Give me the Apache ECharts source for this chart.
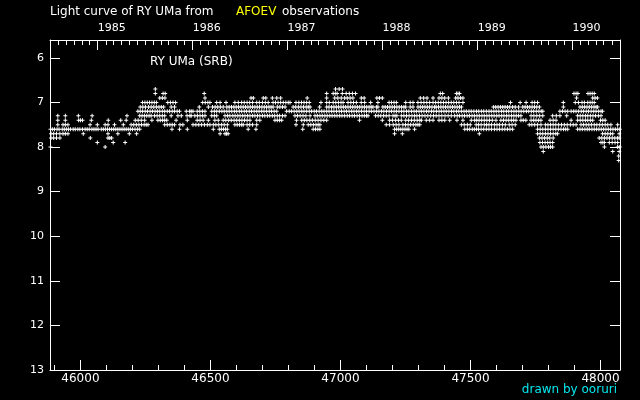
<!DOCTYPE html>
<html><head><meta charset="utf-8">
<script src="https://cdn.jsdelivr.net/npm/echarts@6/dist/echarts.min.js"></script>
<style>html,body{margin:0;padding:0;background:#000;}#c{width:640px;height:400px;}</style>
</head><body><div id="c"></div>
<script>
// Magnitude levels and the Julian dates (JD-2400000) observed at each level
const magLevels = [6.7, 6.8, 6.9, 7.0, 7.1, 7.2, 7.3, 7.4, 7.5, 7.6, 7.7, 7.8, 7.9, 8.0, 8.1, 8.2, 8.3];
const jd67 = [46288, 46981, 46995, 47008];
const jd68 = [46288, 46318, 46326, 46476, 46947, 46972, 46980, 46987, 47007, 47022, 47034, 47046, 47058, 47384, 47393, 47446, 47452, 47458, 47898, 47906, 47913, 47952, 47960, 47968, 47976];
const jd69 = [46305, 46315, 46325, 46479, 46656, 46665, 46703, 46713, 46738, 46755, 46770, 46872, 46947, 46978, 46990, 47003, 47016, 47026, 47037, 47048, 47080, 47091, 47140, 47150, 47161, 47307, 47320, 47333, 47356, 47379, 47390, 47401, 47415, 47443, 47452, 47462, 47471, 47908, 47970, 47979, 47988];
const jd70 = [46239, 46248, 46257, 46266, 46275, 46284, 46292, 46336, 46346, 46356, 46366, 46470, 46480, 46490, 46498, 46524, 46537, 46560, 46594, 46607, 46620, 46630, 46641, 46651, 46662, 46678, 46688, 46700, 46711, 46722, 46741, 46750, 46760, 46770, 46780, 46790, 46799, 46806, 46829, 46840, 46850, 46860, 46870, 46880, 46925, 46947, 46957, 46972, 46982, 46992, 47002, 47010, 47029, 47040, 47050, 47061, 47080, 47093, 47116, 47144, 47187, 47196, 47206, 47215, 47251, 47268, 47279, 47298, 47310, 47321, 47332, 47343, 47356, 47366, 47376, 47386, 47396, 47406, 47416, 47426, 47436, 47446, 47456, 47471, 47654, 47691, 47714, 47737, 47747, 47758, 47857, 47903, 47915, 47929, 47938, 47951, 47960, 47968, 47976];
const jd71 = [46230, 46240, 46250, 46262, 46272, 46282, 46292, 46302, 46311, 46320, 46349, 46362, 46457, 46492, 46508, 46518, 46528, 46538, 46549, 46563, 46572, 46581, 46590, 46599, 46608, 46617, 46626, 46635, 46644, 46653, 46662, 46671, 46680, 46689, 46698, 46707, 46716, 46725, 46733, 46741, 46757, 46767, 46777, 46787, 46818, 46828, 46838, 46848, 46858, 46868, 46876, 46883, 46920, 46947, 46956, 46966, 46975, 46984, 46993, 47002, 47011, 47020, 47029, 47038, 47047, 47056, 47065, 47074, 47083, 47092, 47101, 47110, 47118, 47125, 47138, 47144, 47163, 47172, 47181, 47190, 47199, 47208, 47217, 47226, 47235, 47244, 47251, 47268, 47279, 47298, 47307, 47316, 47325, 47334, 47343, 47352, 47362, 47368, 47377, 47386, 47395, 47404, 47413, 47422, 47431, 47440, 47449, 47458, 47465, 47588, 47597, 47606, 47615, 47624, 47633, 47642, 47651, 47662, 47672, 47685, 47701, 47710, 47719, 47728, 47737, 47746, 47755, 47765, 47857, 47921, 47930, 47939, 47948, 47957, 47966, 47975, 47983, 47989];
const jd72 = [46221, 46230, 46239, 46249, 46258, 46268, 46277, 46287, 46296, 46305, 46315, 46324, 46334, 46343, 46353, 46362, 46372, 46381, 46407, 46420, 46426, 46433, 46449, 46459, 46469, 46479, 46505, 46515, 46524, 46534, 46544, 46553, 46563, 46572, 46582, 46592, 46601, 46611, 46620, 46630, 46639, 46649, 46658, 46668, 46678, 46687, 46697, 46706, 46716, 46726, 46735, 46745, 46755, 46793, 46803, 46812, 46822, 46832, 46841, 46851, 46860, 46870, 46880, 46889, 46899, 46908, 46918, 46928, 46937, 46947, 46956, 46966, 46975, 46985, 46995, 47004, 47014, 47023, 47033, 47043, 47052, 47062, 47071, 47081, 47091, 47100, 47110, 47119, 47129, 47139, 47148, 47158, 47167, 47177, 47187, 47196, 47206, 47215, 47225, 47235, 47244, 47254, 47263, 47273, 47283, 47292, 47302, 47311, 47321, 47331, 47340, 47350, 47359, 47369, 47379, 47388, 47398, 47407, 47417, 47427, 47436, 47446, 47455, 47465, 47475, 47484, 47494, 47503, 47513, 47523, 47532, 47542, 47551, 47561, 47571, 47580, 47590, 47599, 47609, 47619, 47628, 47638, 47647, 47657, 47667, 47676, 47686, 47695, 47705, 47715, 47724, 47734, 47743, 47753, 47763, 47772, 47778, 47844, 47854, 47864, 47874, 47887, 47897, 47906, 47916, 47926, 47935, 47945, 47954, 47964, 47974, 47983, 47993, 48002, 48008];
const jd73 = [45913, 45942, 45992, 46045, 46179, 46228, 46237, 46246, 46255, 46264, 46272, 46285, 46295, 46305, 46315, 46324, 46349, 46375, 46388, 46410, 46421, 46426, 46440, 46450, 46460, 46470, 46479, 46505, 46515, 46524, 46556, 46566, 46575, 46586, 46595, 46605, 46614, 46624, 46633, 46643, 46652, 46662, 46671, 46681, 46690, 46700, 46709, 46719, 46728, 46738, 46747, 46757, 46766, 46777, 46787, 46825, 46835, 46845, 46856, 46867, 46883, 46902, 46911, 46921, 46930, 46940, 46949, 46959, 46968, 46978, 46987, 46997, 47006, 47016, 47026, 47035, 47045, 47054, 47064, 47073, 47083, 47092, 47100, 47106, 47135, 47145, 47155, 47166, 47176, 47187, 47202, 47210, 47217, 47234, 47244, 47254, 47264, 47275, 47285, 47294, 47304, 47314, 47325, 47336, 47347, 47358, 47368, 47379, 47390, 47402, 47414, 47426, 47439, 47449, 47458, 47468, 47477, 47487, 47496, 47506, 47515, 47525, 47534, 47544, 47553, 47563, 47572, 47582, 47591, 47601, 47610, 47620, 47629, 47639, 47648, 47658, 47667, 47676, 47685, 47694, 47733, 47744, 47755, 47766, 47778, 47816, 47830, 47844, 47870, 47912, 47922, 47932, 47942, 47951, 47961, 47971, 47981, 47992, 48002];
const jd74 = [45913, 45942, 45993, 46000, 46008, 46042, 46107, 46155, 46176, 46211, 46222, 46234, 46247, 46275, 46298, 46307, 46316, 46324, 46332, 46368, 46411, 46449, 46460, 46472, 46492, 46517, 46530, 46549, 46559, 46570, 46580, 46591, 46601, 46611, 46621, 46631, 46641, 46652, 46678, 46690, 46748, 46757, 46766, 46774, 46831, 46851, 46861, 46871, 46882, 46892, 46903, 46914, 46925, 46936, 46947, 47073, 47161, 47189, 47200, 47212, 47223, 47234, 47251, 47262, 47273, 47284, 47295, 47305, 47311, 47330, 47343, 47356, 47379, 47390, 47401, 47420, 47448, 47471, 47503, 47516, 47524, 47533, 47543, 47553, 47563, 47573, 47584, 47598, 47617, 47627, 47637, 47647, 47657, 47666, 47675, 47694, 47703, 47713, 47733, 47743, 47752, 47762, 47771, 47806, 47818, 47829, 47887, 47912, 47922, 47932, 47942, 47951, 47961, 47970, 48000, 48009, 48018];
const jd75 = [45913, 45933, 45942, 45952, 46037, 46065, 46095, 46106, 46131, 46165, 46195, 46205, 46215, 46225, 46235, 46245, 46253, 46260, 46324, 46334, 46344, 46353, 46362, 46383, 46394, 46433, 46444, 46455, 46466, 46477, 46488, 46498, 46511, 46521, 46532, 46543, 46553, 46565, 46594, 46603, 46612, 46620, 46626, 46641, 46651, 46662, 46678, 46829, 46857, 46876, 46886, 46896, 46906, 46914, 46921, 47176, 47189, 47203, 47214, 47225, 47240, 47250, 47260, 47270, 47280, 47290, 47298, 47305, 47465, 47476, 47488, 47499, 47522, 47531, 47541, 47553, 47562, 47571, 47581, 47592, 47602, 47612, 47623, 47634, 47649, 47660, 47672, 47726, 47736, 47747, 47758, 47771, 47788, 47798, 47808, 47818, 47828, 47839, 47850, 47861, 47872, 47884, 47895, 47906, 47925, 47935, 47945, 47955, 47965, 47976, 47986, 47997, 48007, 48018, 48028, 48040, 48066];
const jd76 = [45885, 45892, 45900, 45910, 45918, 45930, 45938, 45946, 45954, 45962, 45972, 45980, 45990, 45998, 46008, 46018, 46026, 46034, 46044, 46052, 46060, 46068, 46080, 46088, 46096, 46104, 46112, 46120, 46128, 46136, 46144, 46152, 46160, 46168, 46176, 46184, 46192, 46200, 46210, 46220, 46228, 46352, 46381, 46411, 46511, 46534, 46542, 46550, 46558, 46565, 46645, 46675, 46855, 46895, 46904, 46913, 46921, 47208, 47216, 47224, 47232, 47240, 47248, 47256, 47263, 47285, 47478, 47488, 47497, 47507, 47515, 47523, 47531, 47541, 47551, 47561, 47571, 47581, 47592, 47602, 47612, 47622, 47632, 47642, 47652, 47662, 47758, 47768, 47778, 47788, 47798, 47808, 47818, 47828, 47838, 47848, 47858, 47866, 47874, 47912, 47921, 47930, 47940, 47949, 47957, 47967, 47976, 47985, 47994, 48003, 48012, 48021, 48030, 48039, 48048, 48057, 48066, 48074];
const jd77 = [45887, 45897, 45908, 45921, 45933, 45942, 45952, 46011, 46106, 46144, 46188, 46216, 46537, 46556, 46562, 46568, 47208, 47238, 47534, 47758, 47768, 47778, 47788, 47798, 47808, 47818, 47828, 47835, 48008, 48018, 48028, 48038, 48047, 48072];
const jd78 = [45887, 45897, 45908, 45921, 46038, 46106, 46113, 46120, 47765, 47775, 47785, 47795, 47805, 47818, 47995, 48005, 48015, 48025, 48035, 48045, 48055, 48065, 48072];
const jd79 = [46065, 46126, 46172, 47767, 47777, 47787, 47797, 47806, 47816, 48002, 48009, 48015, 48034, 48045, 48056, 48066];
const jd80 = [45885, 46095, 47771, 47780, 47790, 47800, 47808, 47816, 48015, 48066, 48074];
const jd81 = [47780, 48047, 48072];
const jd82 = [48070];
const jd83 = [48070];
const jdByLevel = [jd67, jd68, jd69, jd70, jd71, jd72, jd73, jd74, jd75, jd76, jd77, jd78, jd79, jd80, jd81, jd82, jd83];

// Axis ticks and labels
const jdMajorTicks = [46000, 46500, 47000, 47500, 48000];
const jdMinorTicks = [45900, 46000, 46100, 46200, 46300, 46400, 46500, 46600, 46700, 46800, 46900, 47000, 47100, 47200, 47300, 47400, 47500, 47600, 47700, 47800, 47900, 48000];
const yearJD = [46066.5, 46431.5, 46796.5, 47161.5, 47527.5, 47892.5];
const yearLabels = ['1985', '1986', '1987', '1988', '1989', '1990'];
const monthJD = [45913.5, 45944.5, 45974.5, 46005.5, 46035.5,
  46097.5, 46125.5, 46156.5, 46186.5, 46217.5, 46247.5, 46278.5, 46309.5, 46339.5, 46370.5, 46400.5,
  46462.5, 46490.5, 46521.5, 46551.5, 46582.5, 46612.5, 46643.5, 46674.5, 46704.5, 46735.5, 46765.5,
  46827.5, 46855.5, 46886.5, 46916.5, 46947.5, 46977.5, 47008.5, 47039.5, 47069.5, 47100.5, 47130.5,
  47192.5, 47221.5, 47252.5, 47282.5, 47313.5, 47343.5, 47374.5, 47405.5, 47435.5, 47466.5, 47496.5,
  47558.5, 47586.5, 47617.5, 47647.5, 47678.5, 47708.5, 47739.5, 47770.5, 47800.5, 47831.5, 47861.5,
  47923.5, 47951.5, 47982.5, 48012.5, 48043.5];
const magTicks = [6, 7, 8, 9, 10, 11, 12, 13];

const points = [];
magLevels.forEach((m, i) => jdByLevel[i].forEach(j => points.push([j, m])));

const JD_MIN = 45883, JD_MAX = 48075, MAG_MIN = 5.6, MAG_MAX = 13;
const FONT = 'DejaVu Sans';
const white = '#ffffff';
const lineW = { color: white, width: 1 };

const chart = echarts.init(document.getElementById('c'), null, { renderer: 'canvas' });
chart.setOption({
  backgroundColor: '#000000',
  animation: false,
  grid: { left: 50, right: 20, top: 40, bottom: 30 },
  xAxis: [
    { type: 'value', position: 'bottom', min: JD_MIN, max: JD_MAX,
      axisLine: { show: true, lineStyle: lineW },
      axisTick: { show: true, inside: true, length: 10, lineStyle: lineW, customValues: jdMajorTicks },
      axisLabel: { show: true, color: white, fontFamily: FONT, fontSize: 12, margin: 3, customValues: jdMajorTicks,
        formatter: v => String(v) },
      splitLine: { show: false } },
    { type: 'value', position: 'bottom', min: JD_MIN, max: JD_MAX,
      axisLine: { show: false },
      axisTick: { show: true, inside: true, length: 5, lineStyle: lineW, customValues: jdMinorTicks },
      axisLabel: { show: false }, splitLine: { show: false } },
    { type: 'value', position: 'top', min: JD_MIN, max: JD_MAX,
      axisLine: { show: true, lineStyle: lineW },
      axisTick: { show: true, inside: true, length: 10, lineStyle: lineW, customValues: yearJD },
      axisLabel: { show: true, color: white, fontFamily: FONT, fontSize: 11, margin: 6, align: 'left',
        customValues: yearJD,
        formatter: v => { const k = yearJD.indexOf(v); return k >= 0 ? yearLabels[k] : ''; } },
      splitLine: { show: false } },
    { type: 'value', position: 'top', min: JD_MIN, max: JD_MAX,
      axisLine: { show: false },
      axisTick: { show: true, inside: true, length: 5, lineStyle: lineW, customValues: monthJD },
      axisLabel: { show: false }, splitLine: { show: false } }
  ],
  yAxis: [
    { type: 'value', position: 'left', inverse: true, min: MAG_MIN, max: MAG_MAX,
      axisLine: { show: true, lineStyle: lineW },
      axisTick: { show: true, inside: true, length: 10, lineStyle: lineW, customValues: magTicks },
      axisLabel: { show: true, color: white, fontFamily: FONT, fontSize: 11, margin: 6, customValues: magTicks },
      splitLine: { show: false } },
    { type: 'value', position: 'right', inverse: true, min: MAG_MIN, max: MAG_MAX,
      axisLine: { show: true, lineStyle: lineW },
      axisTick: { show: true, inside: true, length: 10, lineStyle: lineW, customValues: magTicks },
      axisLabel: { show: false }, splitLine: { show: false } }
  ],
  graphic: [
    { type: 'text', x: 50, y: 12, style: { text: 'Light curve of RY UMa from', fill: white, font: '12px ' + FONT, align: 'left', verticalAlign: 'middle' } },
    { type: 'text', x: 236, y: 12, style: { text: 'AFOEV', fill: '#ffff00', font: '12px ' + FONT, align: 'left', verticalAlign: 'middle' } },
    { type: 'text', x: 282, y: 12, style: { text: 'observations', fill: white, font: '12px ' + FONT, align: 'left', verticalAlign: 'middle' } },
    { type: 'text', x: 150, y: 62, style: { text: 'RY UMa (SRB)', fill: white, font: '12px ' + FONT, align: 'left', verticalAlign: 'middle' } },
    { type: 'text', x: 617, y: 390, style: { text: 'drawn by ooruri', fill: '#00e8f0', font: '12px ' + FONT, align: 'right', verticalAlign: 'middle' } }
  ],
  series: [{
    type: 'scatter', xAxisIndex: 0, yAxisIndex: 0, silent: true,
    symbol: 'path://M1.5,0H2.5V4H1.5ZM0,1.5H4V2.5H0Z', symbolSize: 4,
    itemStyle: { color: white, opacity: 1 },
    data: points
  }]
});
</script>
</body></html>
